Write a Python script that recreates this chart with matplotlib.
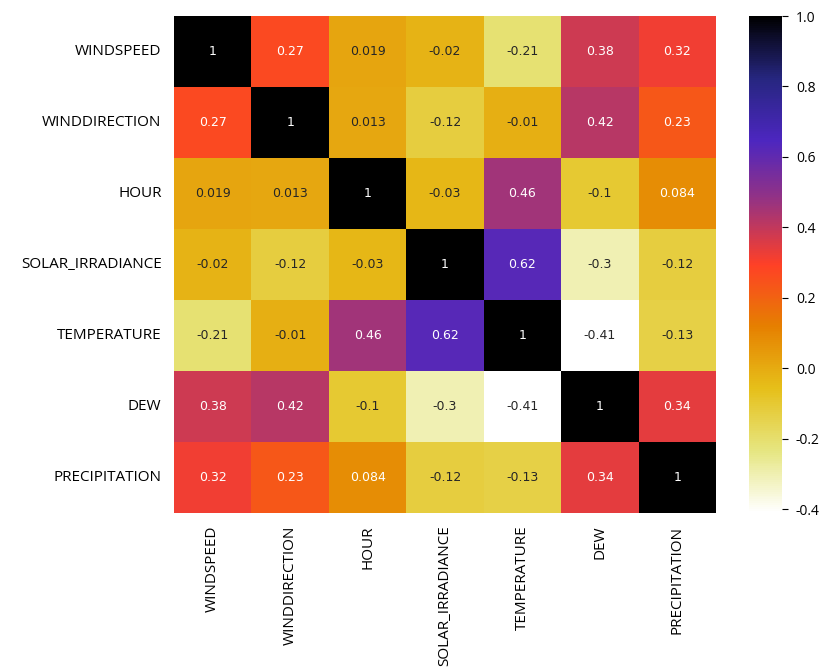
import numpy as np
import pandas as pd
import matplotlib
matplotlib.use("Agg")
import matplotlib.pyplot as plt
import seaborn as sns

plt.rcParams["axes.unicode_minus"] = False

variables = ["WINDSPEED", "WINDDIRECTION", "HOUR", "SOLAR_IRRADIANCE",
             "TEMPERATURE", "DEW", "PRECIPITATION"]

windspeed = [1, 0.27, 0.019, -0.02, -0.21, 0.38, 0.32]
winddirection = [0.27, 1, 0.013, -0.12, -0.01, 0.42, 0.23]
hour = [0.019, 0.013, 1, -0.03, 0.46, -0.1, 0.084]
solar_irradiance = [-0.02, -0.12, -0.03, 1, 0.62, -0.3, -0.12]
temperature = [-0.21, -0.01, 0.46, 0.62, 1, -0.41, -0.13]
dew = [0.38, 0.42, -0.1, -0.3, -0.41, 1, 0.34]
precipitation = [0.32, 0.23, 0.084, -0.12, -0.13, 0.34, 1]

corr = pd.DataFrame(
    [windspeed, winddirection, hour, solar_irradiance, temperature, dew, precipitation],
    index=variables, columns=variables,
)

W, H = 821, 672
fig = plt.figure(figsize=(W / 100, H / 100), dpi=100)
ax = fig.add_axes([174 / W, (H - 513) / H, (716 - 174) / W, (513 - 16) / H])
cax = fig.add_axes([749 / W, (H - 513) / H, 33 / W, (513 - 16) / H])

sns.heatmap(corr, annot=True, fmt=".2g", cmap="CMRmap_r", ax=ax, cbar_ax=cax,
            annot_kws={"fontsize": 9, "family": "DejaVu Sans"})

ax.set_xticklabels(variables, rotation=90, fontsize=11, family="Open Sans")
ax.set_yticklabels(variables, rotation=0, fontsize=11, family="Open Sans")
ax.tick_params(length=0, pad=9)

cax.tick_params(labelsize=10, length=4, pad=6)
for t in cax.get_yticklabels():
    t.set_family("Open Sans")

fig.savefig("out.png", dpi=100)
